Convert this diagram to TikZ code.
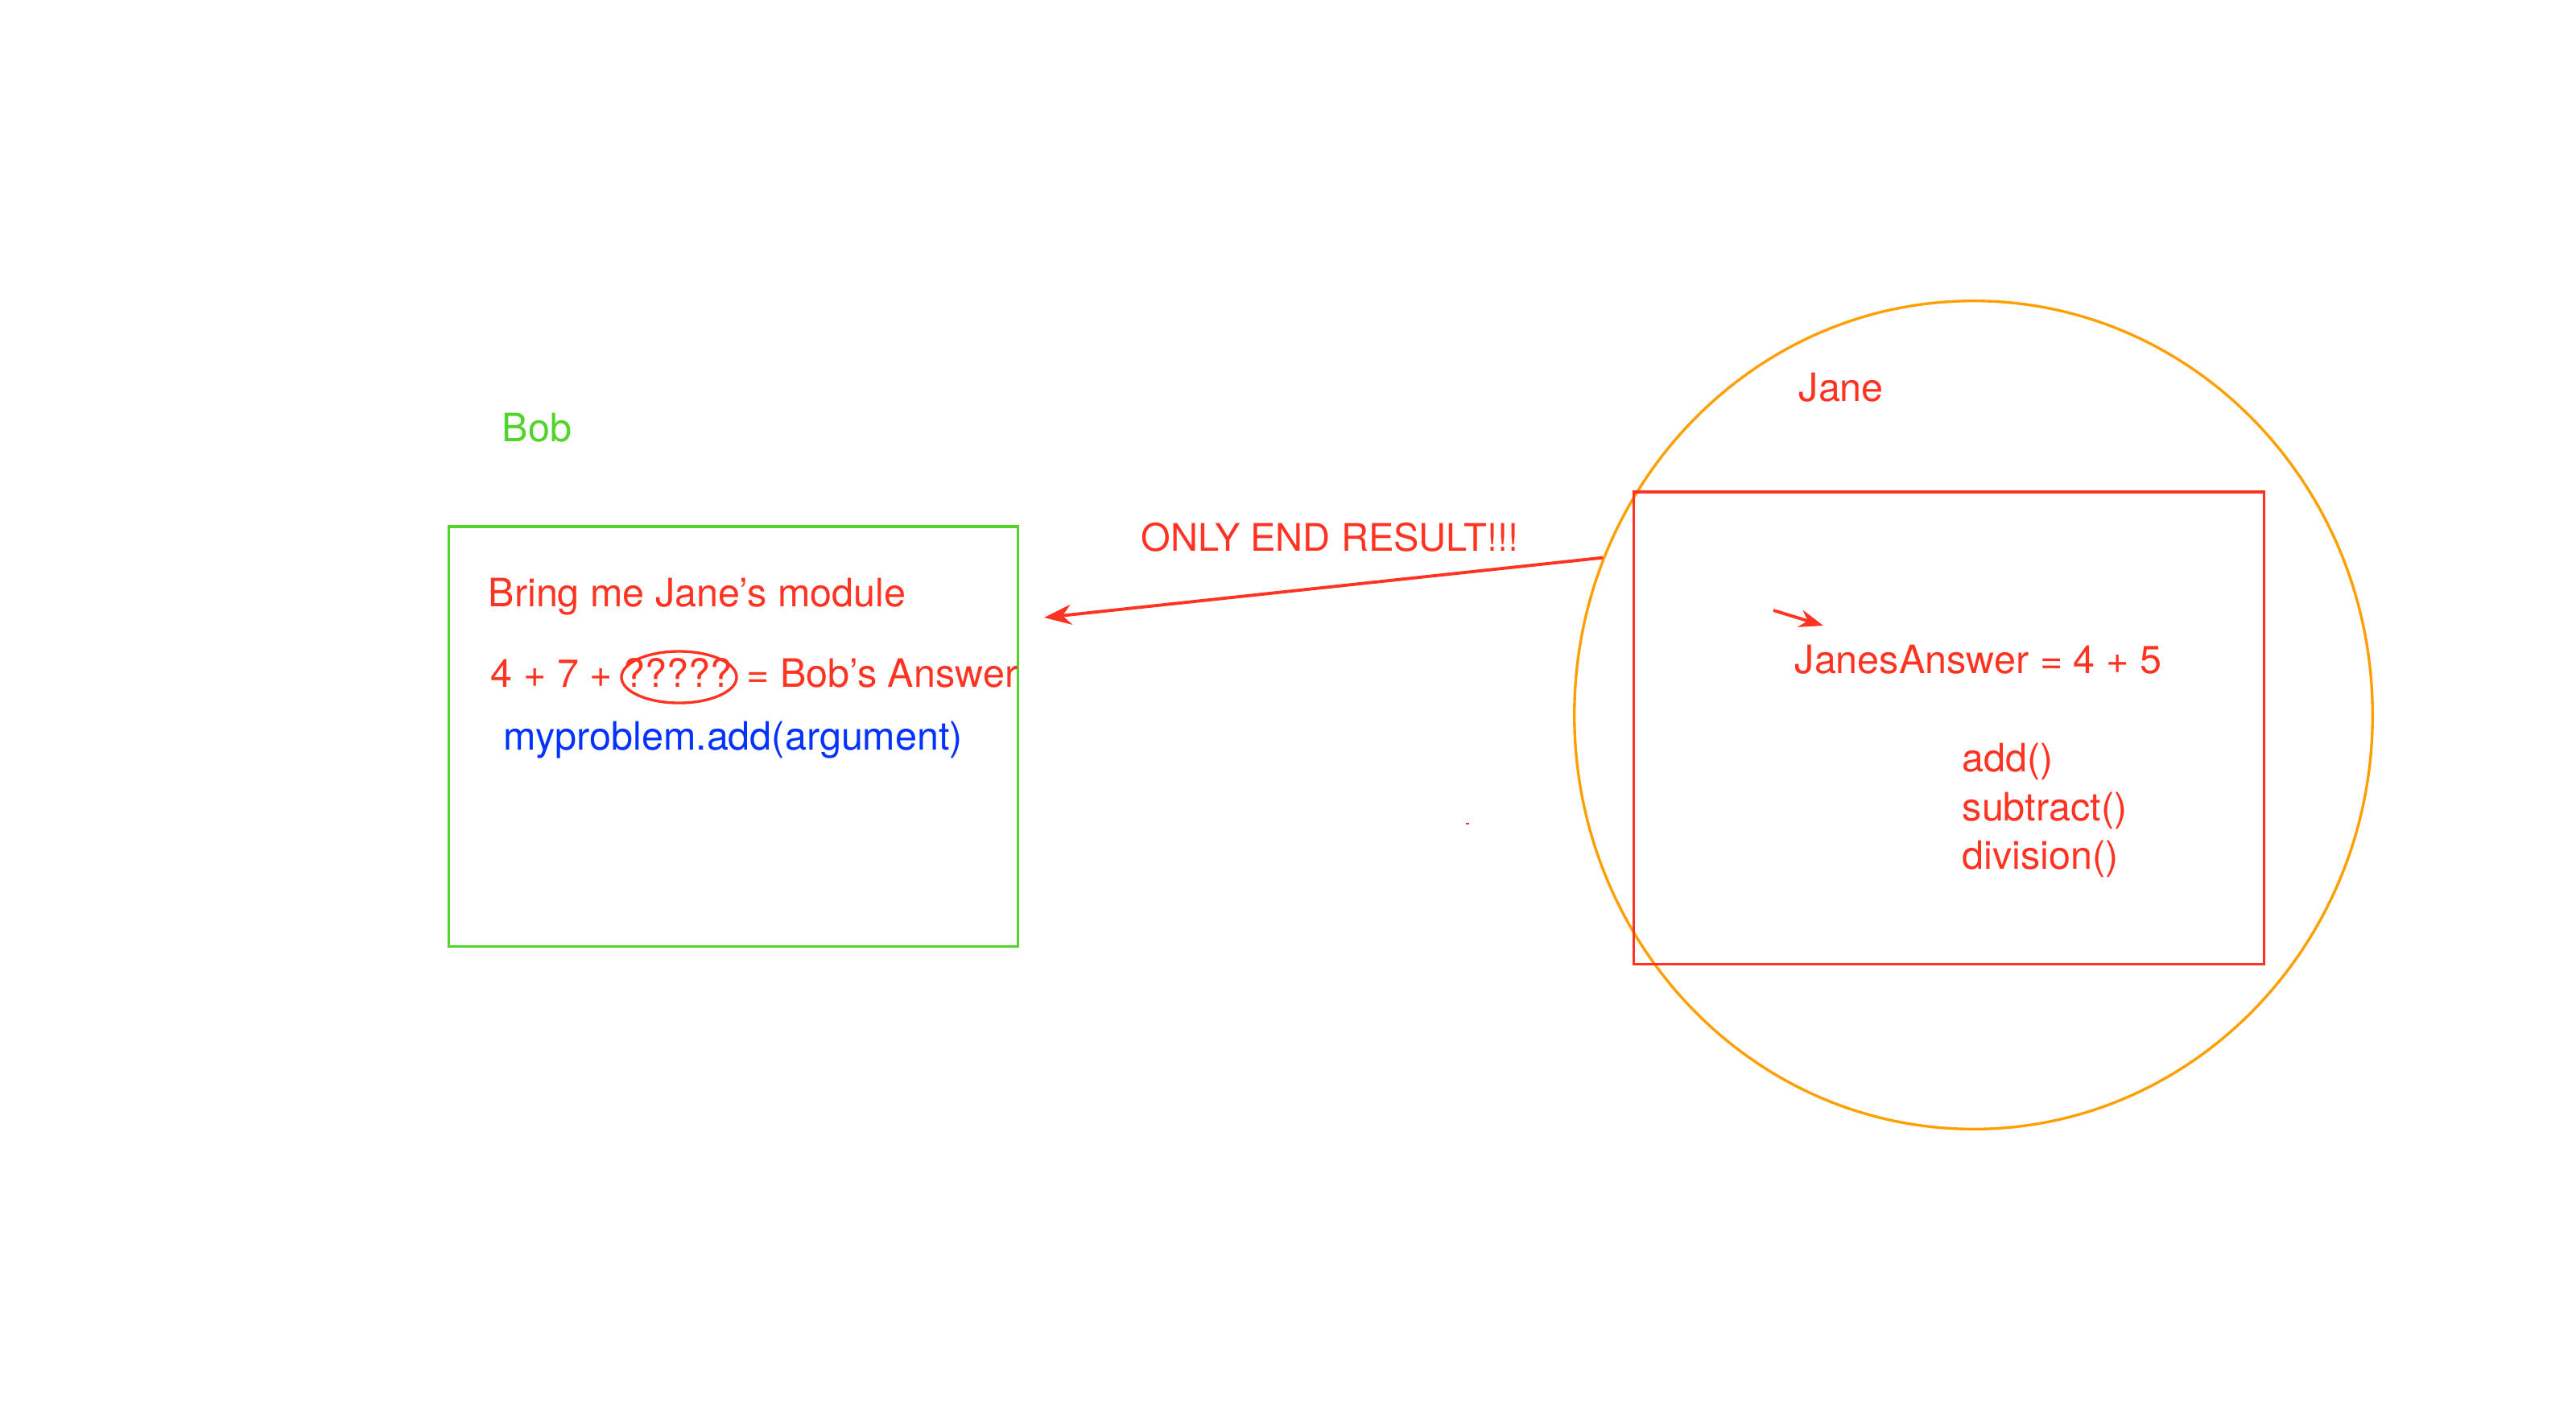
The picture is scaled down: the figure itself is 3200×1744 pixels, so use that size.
\documentclass[tikz,border=0pt]{standalone}
\usepackage{fontspec}
\setmainfont{TeX Gyre Heros}
\usetikzlibrary{shapes.geometric,arrows.meta}
\definecolor{bobgreen}{HTML}{52D42A}
\definecolor{jred}{HTML}{FF3322}
\definecolor{jorange}{HTML}{FFA000}
\definecolor{jblue}{HTML}{0433FF}
\begin{document}
\begin{tikzpicture}[x=0.01cm,y=-0.01cm,
  txt/.style={anchor=base west,inner sep=0pt,font=\fontsize{13.8}{17}\selectfont},
  redtxt/.style={txt,text=jred},
  boxline/.style={line width=0.95pt},
  arrowline/.style={draw=jred,line width=1.1pt,-{Stealth[length=0.34cm,width=0.25cm]}},
  smallarrow/.style={draw=jred,line width=1.1pt,-{Stealth[length=0.3cm,width=0.22cm]}}]
\useasboundingbox (0,0) rectangle (3200,1744);
\fill[white] (0,0) rectangle (3200,1744);

% Bob
\node[txt,text=bobgreen] (boblabel) at (623,548) {Bob};
\node[draw=bobgreen,boxline,rectangle,inner sep=0pt,minimum width=7.06cm,minimum height=5.21cm] (bobbox) at (911,914.5) {};
\node[redtxt] (bring) at (606,753) {Bring me Jane’s module};
\node[redtxt] (sum) at (609,853) {4 + 7 + ????? = Bob’s Answer};
\node[draw=jred,boxline,ellipse,inner sep=0pt,minimum width=1.43cm,minimum height=0.64cm] (unknown) at (843.5,841) {};
\node[txt,text=jblue] (call) at (625,931) {myproblem.add(argument)};

% Jane
\node[draw=jorange,boxline,ellipse,inner sep=0pt,minimum width=9.91cm,minimum height=10.28cm] (janecircle) at (2451.5,888) {};
\node[draw=jred,boxline,rectangle,inner sep=0pt,minimum width=7.82cm,minimum height=5.86cm] (janebox) at (2421,904) {};
\node[redtxt] (janelabel) at (2234,498) {Jane};
\node[redtxt] (janesanswer) at (2229,836) {JanesAnswer = 4 + 5};
\node[redtxt] (add) at (2437,958) {add()};
\node[redtxt] (subtract) at (2437,1019) {subtract()};
\node[redtxt] (division) at (2437,1079) {division()};

% result arrow
\node[redtxt,font=\fontsize{13.4}{16}\selectfont] (onlyend) at (1417,684) {ONLY END RESULT!!!};
\coordinate (resulttip) at (1297,767);
\draw[arrowline] (janecircle.157.2) -- (resulttip);

% small arrow
\coordinate (smalltail) at (2203,758);
\coordinate (smalltip) at (2265,777);
\draw[smallarrow] (smalltail) -- (smalltip);

% stray dot
\fill[jred] (1821,1022) rectangle (1825,1024);
\end{tikzpicture}
\end{document}
